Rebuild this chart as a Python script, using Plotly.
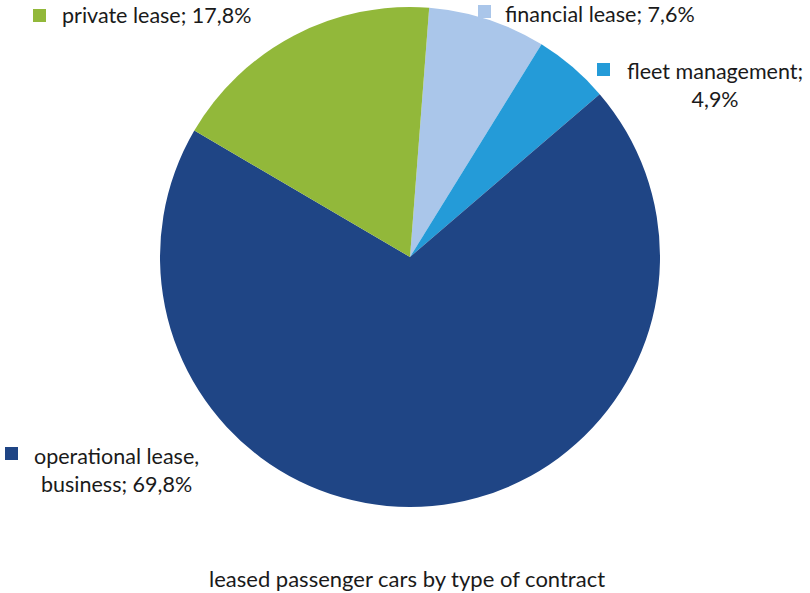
import plotly.graph_objects as go

# shares of leased passenger cars by contract type (%)
labels = ["financial lease", "fleet management", "operational lease, business", "private lease"]
values = [7.6, 4.9, 69.8, 17.8]
colors = ["#AAC6EA", "#249BD8", "#1F4585", "#92B83A"]
title = "leased passenger cars by type of contract"

W, H = 810, 593

fig = go.Figure()
fig.add_trace(go.Pie(
    labels=labels, values=values, sort=False, direction="clockwise",
    rotation=4.4, marker=dict(colors=colors, line=dict(width=0)),
    textinfo="none", showlegend=False, hoverinfo="label+percent",
    domain=dict(x=[(410 - 250) / W, (410 + 250) / W],
                y=[1 - (257 + 250) / H, 1 - (257 - 250) / H]),
))

def px(x, y):
    return x / W, 1 - y / H

def fmt(v):
    return f"{v:.1f}".replace(".", ",") + "%"

txt_font = dict(family="Lato, sans-serif", size=21.5, color="#1a1a1a")

# label layout: (square x, square y, text x, text y, anchor, text)
label_pos = {
    "private lease": (33, 9, 60, 15, "left", "private lease; " + fmt(values[3])),
    "financial lease": (478, 5, 503, 14, "left", "financial lease; " + fmt(values[0])),
    "fleet management": (597, 63, 715, 85, "center", "fleet management;<br>" + fmt(values[1])),
    "operational lease, business": (5, 447, 117, 470, "center",
                                    "operational lease,<br>business; " + fmt(values[2])),
}

for lab, col in zip(labels, colors):
    sx, sy, tx, ty, anc, text = label_pos[lab]
    x0, y0 = px(sx, sy)
    x1, y1 = px(sx + 13, sy + 13)
    fig.add_shape(type="rect", xref="paper", yref="paper", x0=x0, x1=x1, y0=y1, y1=y0,
                  fillcolor=col, line=dict(width=0))
    ax, ay = px(tx, ty)
    fig.add_annotation(x=ax, y=ay, xref="paper", yref="paper", text=text,
                       showarrow=False, xanchor=anc, yanchor="middle", align="center",
                       font=txt_font)

tx, ty = px(407, 578)
fig.add_annotation(x=tx, y=ty, xref="paper", yref="paper", text=title, showarrow=False,
                   xanchor="center", yanchor="middle", font=dict(txt_font, size=22))

fig.update_layout(width=W, height=H, margin=dict(l=0, r=0, t=0, b=0),
                  paper_bgcolor="white", plot_bgcolor="white")

fig.write_html("out.html", config={"displayModeBar": False},
               post_script="document.body.style.margin='0';")
